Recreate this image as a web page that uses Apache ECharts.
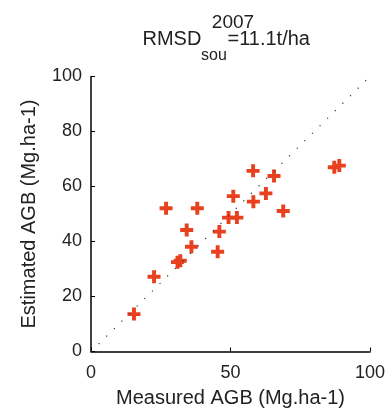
<!DOCTYPE html>
<html><head><meta charset="utf-8">
<script src="https://cdn.jsdelivr.net/npm/echarts@6/dist/echarts.min.js"></script>
<style>html,body{margin:0;padding:0;background:#fff}#c{width:385px;height:410px}</style>
</head><body><div id="c"></div>
<script>
const measured = [15.4, 22.6, 31, 32, 36, 34.3, 26.9, 38.1, 45.4, 46, 49.3, 52.3, 51, 58.2, 58.1, 62.7, 65.6, 68.9, 87.2, 89];
const estimated = [13.6, 27.2, 32.5, 33, 38.1, 44.2, 52.1, 52.1, 36.3, 43.6, 48.7, 48.7, 56.5, 54.5, 65.7, 57.5, 63.8, 51.1, 67, 67.6];
const oneToOne = [[0, 0], [100, 100]];
const xTicks = [0, 50, 100];
const yTicks = [0, 20, 40, 60, 80, 100];
const titleYear = '2007';
const titleMain = 'RMSD';
const titleSub = 'sou';
const titleRest = '=11.1t/ha';

const font = 'Liberation Sans, Arial, sans-serif';
const txt = '#222';
const chart = echarts.init(document.getElementById('c'));
chart.setOption({
  animation: false,
  title: {
    text: titleYear,
    left: 228, top: 8, textAlign: 'center',
    textStyle: {fontFamily: font, fontSize: 19, fontWeight: 'normal', color: txt}
  },
  graphic: [
    {type: 'text', left: 142.5, top: 29.5, style: {text: titleMain, font: '20px ' + font, fill: txt}},
    {type: 'text', left: 201, top: 47.5, style: {text: titleSub, font: '16px ' + font, fill: txt}},
    {type: 'text', left: 227.5, top: 29.5, style: {text: titleRest, font: '20px ' + font, fill: txt}}
  ],
  grid: {left: 91, right: 15, top: 76.5, bottom: 58.5, outerBoundsMode: 'none', containLabel: false},
  xAxis: {
    type: 'value', min: 0, max: 100, interval: 50,
    name: 'Measured AGB (Mg.ha-1)', nameLocation: 'middle', nameGap: 37,
    nameTextStyle: {fontFamily: font, fontSize: 20, color: txt},
    axisLine: {lineStyle: {color: '#000', width: 1.5}},
    axisTick: {inside: true, length: 4, lineStyle: {color: '#000'}},
    axisLabel: {fontFamily: font, fontSize: 18, color: txt, margin: 13,
      formatter: v => xTicks.includes(v) ? String(v) : ''},
    splitLine: {show: false}
  },
  yAxis: {
    type: 'value', min: 0, max: 100, interval: 20,
    name: 'Estimated AGB (Mg.ha-1)', nameLocation: 'middle', nameGap: 52,
    nameTextStyle: {fontFamily: font, fontSize: 20, color: txt},
    axisLine: {show: true, lineStyle: {color: '#000', width: 1.5}},
    axisTick: {show: true, inside: true, length: 4, lineStyle: {color: '#000'}},
    axisLabel: {fontFamily: font, fontSize: 18, color: txt, margin: 9,
      formatter: v => yTicks.includes(v) ? String(v) : ''},
    splitLine: {show: false}
  },
  series: [
    {
      type: 'line', data: oneToOne, symbol: 'none', silent: true,
      lineStyle: {color: '#333', width: 1.2, type: [1.2, 9.5]}
    },
    {
      type: 'scatter',
      data: measured.map((m, i) => [m, estimated[i]]),
      symbol: 'path://M3.5,0h3v3.5h3.5v3h-3.5v3.5h-3v-3.5h-3.5v-3h3.5z',
      symbolSize: 13,
      itemStyle: {color: '#e8411f', opacity: 1}
    }
  ]
});
</script>
</body></html>
